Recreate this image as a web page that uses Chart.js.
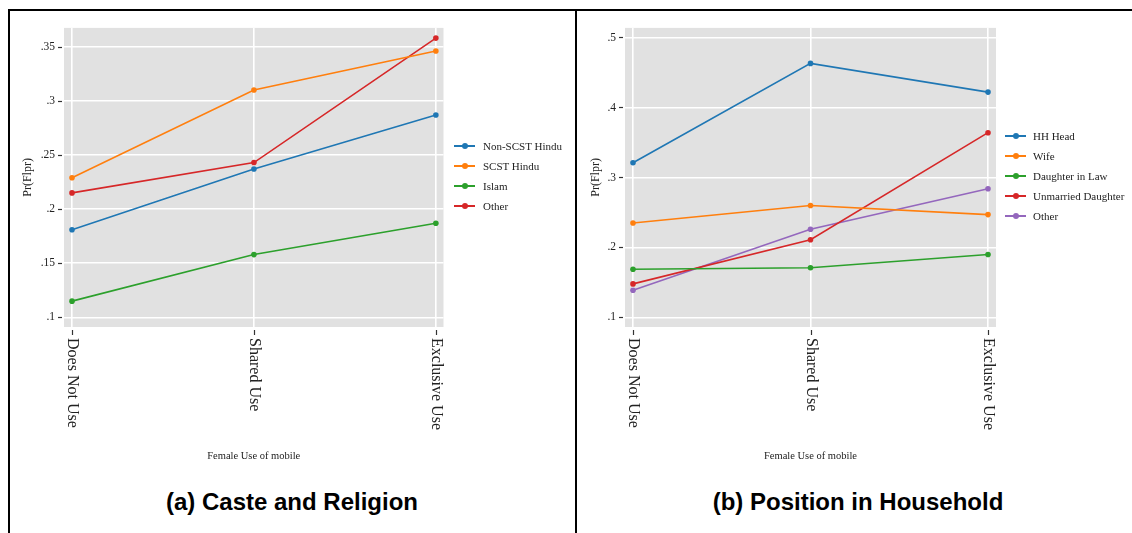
<!DOCTYPE html>
<html>
<head>
<meta charset="utf-8">
<script src="https://cdn.jsdelivr.net/npm/chart.js@4/dist/chart.umd.min.js"></script>
<style>
  html,body{margin:0;padding:0;background:#fff;width:1132px;height:533px;overflow:hidden;position:relative;}
  .line{position:absolute;background:#000;}
  .wrap{position:absolute;}
  .ptitle{position:absolute;font-family:"Liberation Sans",Arial,sans-serif;font-weight:bold;font-size:24px;line-height:28px;color:#000;text-align:center;width:560px;}
  .legend{position:absolute;font-family:"Liberation Serif","Times New Roman",serif;font-size:11px;color:#222;}
  .legend .item{position:relative;height:20px;line-height:20px;white-space:nowrap;}
  .legend .sw{position:absolute;top:9px;height:2px;width:21px;}
  .legend .dot{position:absolute;top:7px;width:6px;height:6px;border-radius:50%;}
</style>
</head>
<body>
<div class="line" style="left:8px;top:9px;width:1124px;height:2px;"></div>
<div class="line" style="left:8px;top:9px;width:2px;height:524px;"></div>
<div class="line" style="left:575px;top:9px;width:2px;height:524px;"></div>

<div class="wrap" style="left:10px;top:12px;width:565px;height:458px;"><canvas id="c1"></canvas></div>
<div class="wrap" style="left:578px;top:12px;width:554px;height:458px;"><canvas id="c2"></canvas></div>

<div class="legend" id="leg1" style="left:454px;top:136px;"></div>
<div class="legend" id="leg2" style="left:1005px;top:126px;"></div>

<div class="ptitle" style="left:12px;top:488px;">(a) Caste and Religion</div>
<div class="ptitle" style="left:578px;top:488px;">(b) Position in Household</div>

<script>
// ---------- data ----------
const categories = ['Does Not Use', 'Shared Use', 'Exclusive Use'];
const xAxisTitle = 'Female Use of mobile';
const yAxisTitle = 'Pr(Flpr)';

// Panel (a): Caste and Religion
const casteNames = ['Non-SCST Hindu', 'SCST Hindu', 'Islam', 'Other'];
const nonScstHindu = [0.181, 0.237, 0.287];
const scstHindu    = [0.229, 0.310, 0.346];
const islam        = [0.115, 0.158, 0.187];
const casteOther   = [0.215, 0.243, 0.358];
const casteTicks   = [0.10, 0.15, 0.20, 0.25, 0.30, 0.35];

// Panel (b): Position in Household
const positionNames = ['HH Head', 'Wife', 'Daughter in Law', 'Unmarried Daughter', 'Other'];
const hhHead            = [0.321, 0.463, 0.422];
const wife              = [0.235, 0.260, 0.247];
const daughterInLaw     = [0.169, 0.171, 0.190];
const unmarriedDaughter = [0.148, 0.211, 0.364];
const positionOther     = [0.139, 0.226, 0.284];
const positionTicks     = [0.1, 0.2, 0.3, 0.4, 0.5];

const palette = ['#1f77b4', '#ff7f0e', '#2ca02c', '#d62728', '#9467bd'];

// ---------- helpers ----------
const SERIF = '"Liberation Serif","Times New Roman",serif';
function fmt(v){ let s = (+v.toFixed(2)).toString(); return s.replace(/^0\./, '.'); }

const decorPlugin = {
  id: 'decor',
  beforeDraw(chart) {
    const {ctx, chartArea: a} = chart;
    ctx.save();
    ctx.fillStyle = '#e1e1e1';
    ctx.fillRect(a.left, a.top, a.right - a.left, a.bottom - a.top);
    ctx.restore();
  },
  afterDraw(chart) {
    const {ctx, chartArea: a} = chart;
    const xs = chart.scales.x, ys = chart.scales.y;
    ctx.save();
    ctx.strokeStyle = '#333';
    ctx.lineWidth = 1.2;
    ys.ticks.forEach(t => {
      const y = Math.round(ys.getPixelForValue(t.value)) + 0.5;
      ctx.beginPath(); ctx.moveTo(a.left - 6, y); ctx.lineTo(a.left - 2, y); ctx.stroke();
    });
    ctx.fillStyle = '#222';
    ctx.font = '16px ' + SERIF;
    ctx.textAlign = 'left';
    ctx.textBaseline = 'middle';
    categories.forEach((c, i) => {
      const x = Math.round(xs.getPixelForValue(i)) + 0.5;
      ctx.beginPath(); ctx.moveTo(x, a.bottom + 3); ctx.lineTo(x, a.bottom + 8); ctx.stroke();
      ctx.save();
      ctx.translate(x, a.bottom + 11);
      ctx.rotate(Math.PI / 2);
      ctx.fillText(c, 0, 0);
      ctx.restore();
    });
    ctx.restore();
  }
};

function makeChart(id, names, series, ticks, yMin, yMax, xPadL, xPadR, yWidth, padRight) {
  const datasets = series.map((arr, k) => ({
    label: names[k],
    data: arr.map((v, i) => ({x: i, y: v})),
    borderColor: palette[k],
    backgroundColor: palette[k],
    borderWidth: 1.6,
    pointRadius: 2.8,
    pointHoverRadius: 2.8,
    pointBorderWidth: 0,
    tension: 0,
    fill: false
  }));
  return new Chart(document.getElementById(id), {
    type: 'line',
    data: { datasets },
    options: {
      responsive: true,
      maintainAspectRatio: false,
      animation: false,
      events: [],
      layout: { padding: { top: 14, right: padRight, left: 0, bottom: 0 } },
      plugins: { legend: { display: false }, tooltip: { enabled: false } },
      scales: {
        x: {
          type: 'linear',
          min: -xPadL, max: 2 + xPadR,
          afterBuildTicks: s => { s.ticks = categories.map((c, i) => ({value: i})); },
          afterFit: s => { s.height = 143; },
          ticks: { display: false },
          grid: { color: '#ffffff', lineWidth: 1.6, drawTicks: false },
          border: { display: false },
          title: { display: true, text: xAxisTitle, color: '#222',
                   font: { family: SERIF, size: 10.5 }, padding: { top: 0, bottom: 7 } }
        },
        y: {
          type: 'linear',
          min: yMin, max: yMax,
          afterBuildTicks: s => { s.ticks = ticks.map(v => ({value: v})); },
          afterFit: s => { s.width = yWidth; },
          ticks: { callback: v => fmt(v), color: '#222', padding: 9,
                   font: { family: SERIF, size: 11.5 } },
          grid: { color: '#ffffff', lineWidth: 1.6, drawTicks: false },
          border: { display: false },
          title: { display: true, text: yAxisTitle, color: '#222',
                   font: { family: SERIF, size: 12 }, padding: { top: 11, bottom: 0 } }
        }
      }
    },
    plugins: [decorPlugin]
  });
}

makeChart('c1', casteNames, [nonScstHindu, scstHindu, islam, casteOther],
          casteTicks, 0.0911, 0.3674, 0.044, 0.042, 54, 131.5);
makeChart('c2', positionNames, [hhHead, wife, daughterInLaw, unmarriedDaughter, positionOther],
          positionTicks, 0.0864, 0.5137, 0.045, 0.045, 47, 136);

function buildLegend(id, names, textLeft) {
  const el = document.getElementById(id);
  names.forEach((n, k) => {
    const it = document.createElement('div');
    it.className = 'item';
    it.innerHTML = '<span class="sw" style="left:0;background:' + palette[k] + '"></span>' +
                   '<span class="dot" style="left:8px;background:' + palette[k] + '"></span>' +
                   '<span style="padding-left:' + textLeft + 'px">' + n + '</span>';
    el.appendChild(it);
  });
}
buildLegend('leg1', casteNames, 29);
buildLegend('leg2', positionNames, 28);
</script>
</body>
</html>
